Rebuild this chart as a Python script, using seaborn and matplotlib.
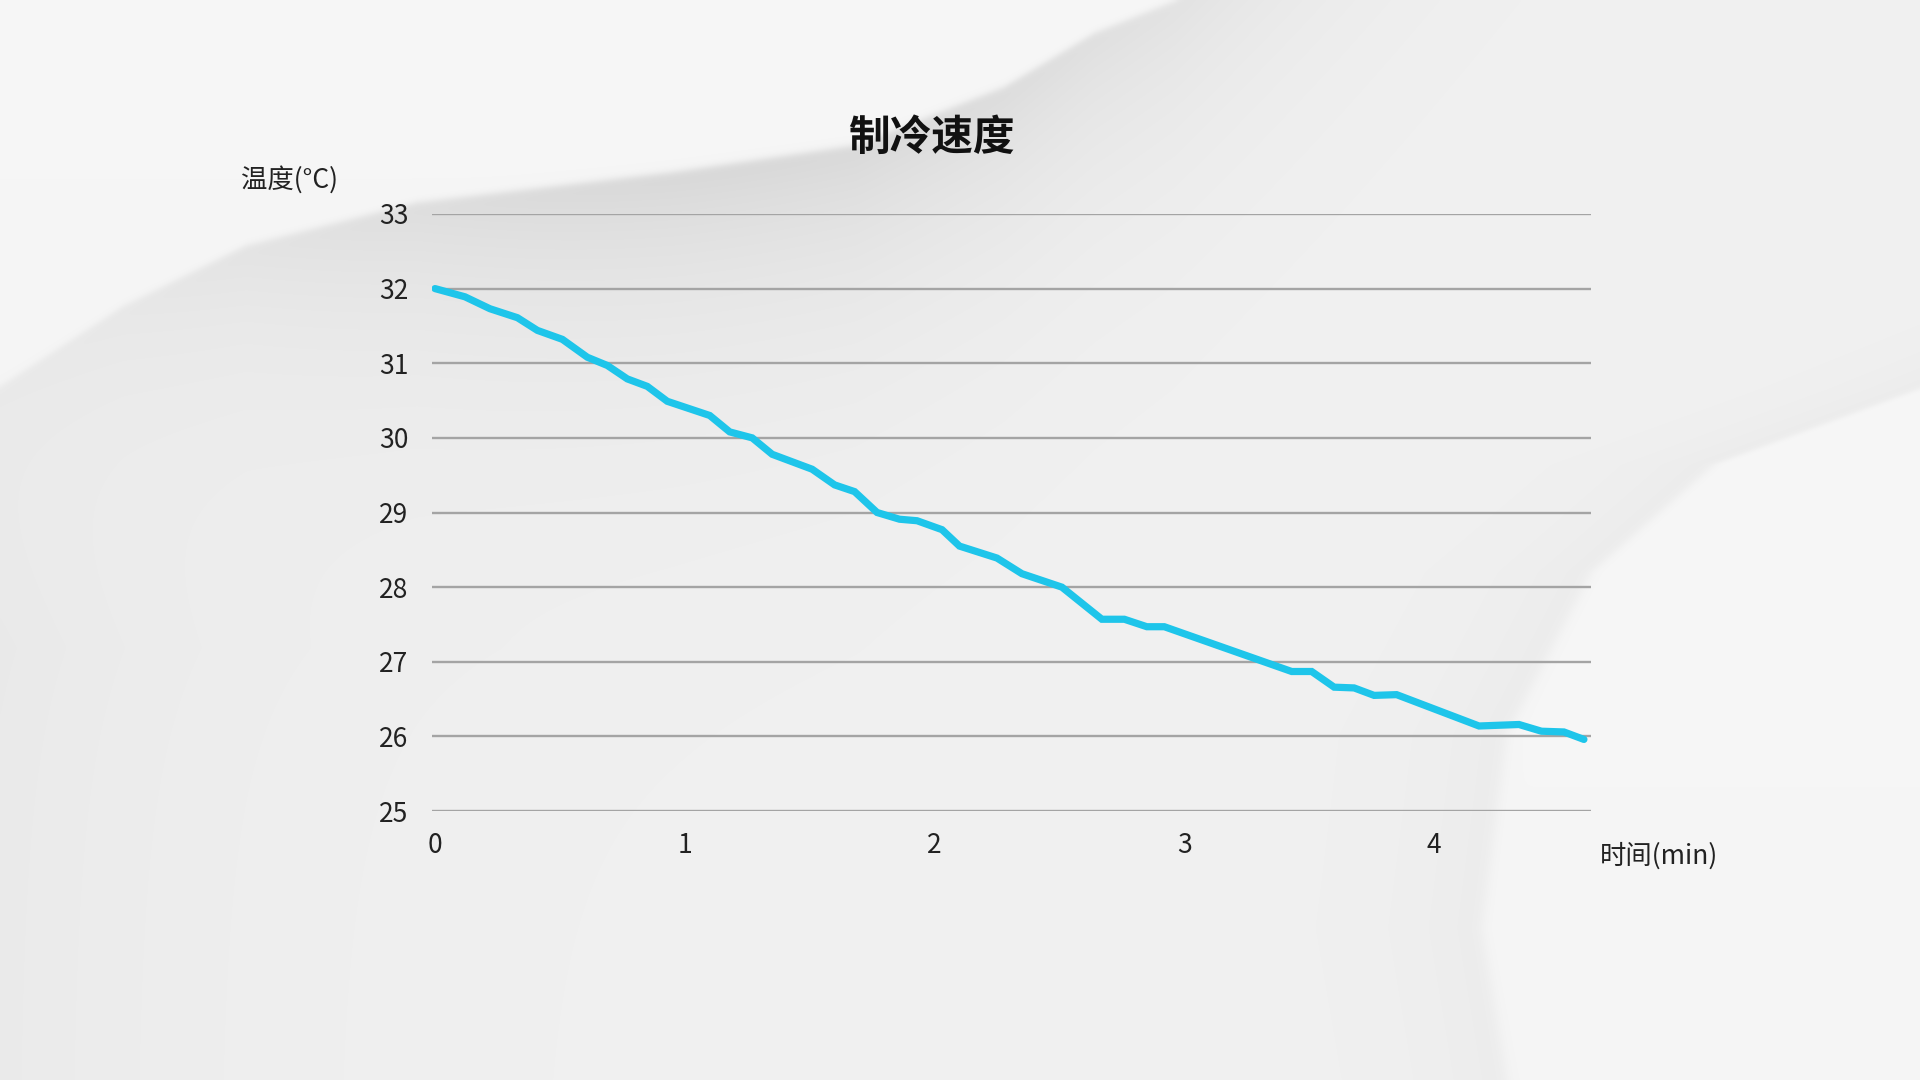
import numpy as np
import pandas as pd
import seaborn as sns
import matplotlib.pyplot as plt

# 读图估计的数据
time_min = [0, 0.12, 0.22, 0.33, 0.41, 0.51, 0.61, 0.69, 0.77, 0.85, 0.93,
            1.10, 1.18, 1.27, 1.35, 1.51, 1.60, 1.68, 1.77, 1.86, 1.93, 2.03,
            2.10, 2.25, 2.35, 2.51, 2.67, 2.76, 2.85, 2.92, 3.43, 3.51, 3.60,
            3.68, 3.76, 3.85, 4.18, 4.34, 4.43, 4.52, 4.60]
temp_c = [32.0, 31.89, 31.73, 31.61, 31.44, 31.32, 31.08, 30.97, 30.79, 30.69,
          30.49, 30.30, 30.08, 30.00, 29.78, 29.58, 29.37, 29.28, 29.00, 28.91,
          28.89, 28.77, 28.55, 28.39, 28.18, 28.00, 27.57, 27.57, 27.47, 27.47,
          26.87, 26.87, 26.66, 26.65, 26.55, 26.56, 26.14, 26.16, 26.07, 26.06,
          25.96]
x_ticks = [0, 1, 2, 3, 4]
y_ticks = [25, 26, 27, 28, 29, 30, 31, 32, 33]

df = pd.DataFrame({'时间': time_min, '温度': temp_c})

sns.set_theme(style='white')
plt.rcParams['font.family'] = ['Noto Sans CJK SC', 'DejaVu Sans']

fig = plt.figure(figsize=(19.2, 10.8), dpi=100)

# 背景：灰白渐变 + 两道弧形
W, H = 960, 540
xx, yy = np.meshgrid(np.linspace(0, 1, W), np.linspace(0, 1, H))
c1_x = [0, 0.064, 0.128, 0.217, 0.35, 0.446, 0.523, 0.57, 0.612, 0.7, 1.0]
c1_y = [0.357, 0.283, 0.227, 0.187, 0.159, 0.134, 0.08, 0.03, 0.0, -0.1, -0.45]
curve1 = np.interp(xx[0], c1_x, c1_y)[None, :]
d1 = yy - curve1
above = 0.5 * (1 - np.tanh(d1 / 0.004))
shade = 0.10 * np.exp(-np.clip(d1, 0, None) / 0.13) * np.exp(-((xx - 0.38) / 0.32) ** 2)
base = 0.945 - 0.025 * np.exp(-xx / 0.15) * np.clip((yy - 0.3) / 0.3, 0, 1)
bg = above * (0.968 - 0.02 * yy) + (1 - above) * (base - shade)
c2_y = [0.0, 0.36, 0.43, 0.53, 0.68, 0.86, 1.0]
c2_x = [1.5, 1.0, 0.893, 0.829, 0.785, 0.772, 0.785]
curve2 = np.interp(yy[:, 0], c2_y, c2_x)[:, None]
d2 = xx - curve2
right = 0.5 * (1 + np.tanh(d2 / 0.004))
bg = right * (0.972 - 0.01 * yy) + (1 - right) * (bg - 0.02 * np.exp(np.clip(d2, None, 0) / 0.05))
bg = np.clip(bg, 0, 1)
ax_bg = fig.add_axes([0, 0, 1, 1], zorder=0)
ax_bg.imshow(np.dstack([bg, bg, bg]), aspect='auto', interpolation='bilinear',
             extent=[0, 1, 1, 0])
ax_bg.axis('off')

ax = fig.add_axes([0.225, 0.249, 0.6036, 0.5529], zorder=1)
ax.patch.set_alpha(0)
sns.lineplot(data=df, x='时间', y='温度', ax=ax, color='#1ec5ea', linewidth=5.2,
             solid_joinstyle='miter')

ax.set_xlim(-0.012, 4.628)
ax.set_ylim(25, 33)
ax.set_xticks(x_ticks)
ax.set_yticks(y_ticks)
ax.set_xticklabels([str(v) for v in x_ticks])
ax.set_yticklabels([str(v) for v in y_ticks])
ax.yaxis.grid(True, color='#a4a4a4', linewidth=1.7)
ax.xaxis.grid(False)
ax.tick_params(axis='both', length=0, labelsize=19, colors='#222222')
ax.tick_params(axis='y', pad=17)
ax.tick_params(axis='x', pad=15)
ax.set_xlabel('')
ax.set_ylabel('')
sns.despine(ax=ax, left=True, bottom=True)

fig.text(931 / 1920, 1 - 138 / 1080, '制冷速度', ha='center', va='center',
         fontsize=30, fontweight='bold', color='#111111')
fig.text(289 / 1920, 1 - 180 / 1080, '温度(°C)', ha='center', va='center',
         fontsize=19, color='#222222')
fig.text(1600 / 1920, 1 - 856 / 1080, '时间(min)', ha='left', va='center',
         fontsize=19, color='#222222')

fig.savefig('out.png', dpi=100)
